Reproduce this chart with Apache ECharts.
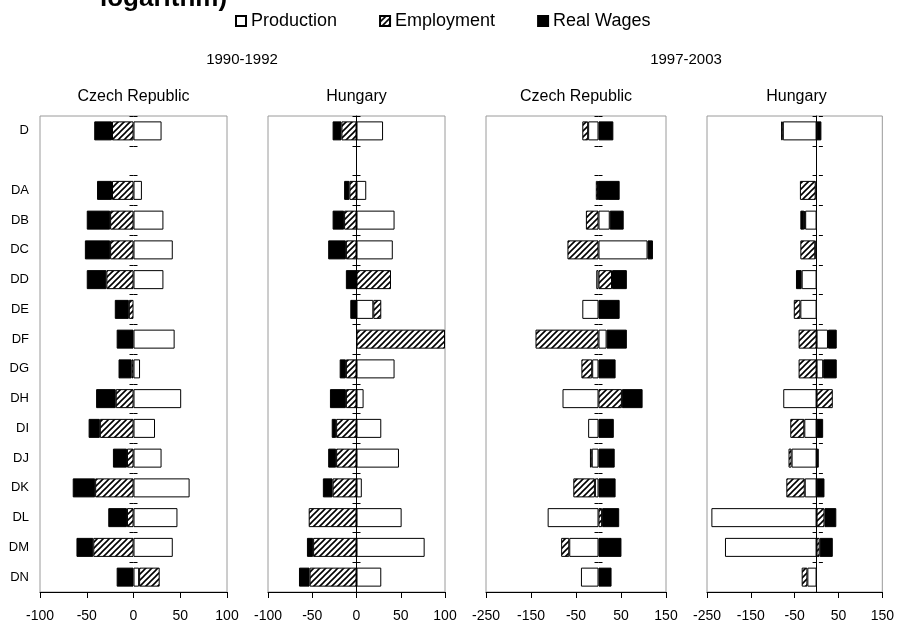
<!DOCTYPE html>
<html>
<head>
<meta charset="utf-8">
<script src="https://cdn.jsdelivr.net/npm/echarts/dist/echarts.min.js"></script>
<style>
  html, body { margin: 0; padding: 0; background: #fff; }
  #chart { width: 897px; height: 626px; }
</style>
</head>
<body>
<div id="chart"></div>
<script>
// Manufacturing branches (NACE); the empty slot separates total D from its sub-sections
const categories = ['D', '', 'DA', 'DB', 'DC', 'DD', 'DE', 'DF', 'DG', 'DH', 'DI', 'DJ', 'DK', 'DL', 'DM', 'DN'];

// Czech Republic, 1990-1992
const prodCz1 = [30, null, 9, 32, 42, 32, null, 44, 7, 51, 23, 30, 60, 47, 42, 6];
const empCz1  = [-23, null, -23, -25, -25, -29, -5, null, -2, -19, -36, -7, -41, -7, -43, 22];
const wageCz1 = [-19, null, -16, -25, -27, -21, -15, -18, -14, -21, -12, -15, -24, -20, -18, -18];

// Hungary, 1990-1992
const prodHu1 = [30, null, 11, 43, 41, null, 19, null, 43, 8, 28, 48, 6, 51, 77, 28];
const empHu1  = [-17, null, -8, -14, -12, 39, 9, 100, -12, -12, -23, -23, -27, -54, -49, -53];
const wageHu1 = [-10, null, -6, -13, -20, -12, -7, null, -7, -18, -5, -9, -11, null, -7, -12];

// Czech Republic, 1997-2003
const prodCz2 = [-23, null, -1, 25, 109, -5, -36, 18, -14, -80, -23, -15, -8, -113, -65, -39];
const empCz2  = [-13, null, -5, -28, -69, 30, null, -140, -24, 52, null, -4, -48, 8, -18, null];
const wageCz2 = [33, null, 47, 31, 12, 33, 47, 45, 38, 46, 34, 36, 38, 38, 51, 29];

// Hungary, 1997-2003
const prodHu2 = [-77, null, -2, -26, -3, -34, -37, 26, 15, -76, -28, -57, -27, -240, -209, -21];
const empHu2  = [-4, null, -36, -2, -34, null, -15, -41, -41, 37, -32, -7, -42, 18, 7, -13];
const wageHu2 = [11, null, null, -9, null, -13, null, 20, 31, null, 15, 5, 18, 27, 30, null];

// Axis ranges
const rangeEarly = { min: -100, max: 100, interval: 50 };
const rangeLate  = { min: -250, max: 150, interval: 100 };

const seriesNames = ['Production', 'Employment', 'Real Wages'];
const periodTitles = ['1990-1992', '1997-2003'];
const countryTitles = ['Czech Republic', 'Hungary', 'Czech Republic', 'Hungary'];

const FONT = 'Liberation Sans, Arial, sans-serif';

// Diagonal hatch used for the employment bars
function hatchPattern() {
  const c = document.createElement('canvas');
  c.width = 6; c.height = 6;
  const g = c.getContext('2d');
  g.fillStyle = '#fff';
  g.fillRect(0, 0, 6, 6);
  g.strokeStyle = '#000';
  g.lineWidth = 1.6;
  g.beginPath();
  g.moveTo(-1, 7); g.lineTo(7, -1);
  g.moveTo(-1, 1); g.lineTo(1, -1);
  g.moveTo(5, 7); g.lineTo(7, 5);
  g.stroke();
  return { image: c, repeat: 'repeat' };
}
const hatch = hatchPattern();

const panels = [
  { left: 40,  width: 187, range: rangeEarly, prod: prodCz1, emp: empCz1, wage: wageCz1, zeroLine: false, labels: true },
  { left: 268, width: 177, range: rangeEarly, prod: prodHu1, emp: empHu1, wage: wageHu1, zeroLine: true,  labels: false },
  { left: 486, width: 180, range: rangeLate,  prod: prodCz2, emp: empCz2, wage: wageCz2, zeroLine: false, labels: false },
  { left: 707, width: 179, range: rangeLate,  prod: prodHu2, emp: empHu2, wage: wageHu2, zeroLine: true,  labels: false }
];

const GRID_TOP = 116, GRID_H = 476, BAR_W = 19;
const N = panels.length;

const grid = [], xAxis = [], yAxis = [], series = [];

// main grids: frame, value axis, category labels, zero line with left ticks, bars
panels.forEach((p, i) => {
  grid.push({
    left: p.left, width: p.width, top: GRID_TOP, height: GRID_H,
    show: true, borderColor: '#9a9a9a', borderWidth: 1, backgroundColor: 'transparent'
  });
  xAxis.push({
    gridIndex: i, type: 'value', position: 'bottom',
    min: p.range.min, max: p.range.max, interval: p.range.interval,
    axisLine: { show: true, onZero: false, lineStyle: { color: '#000', width: 1 } },
    axisTick: { show: true, length: 6, lineStyle: { color: '#000' } },
    axisLabel: { fontSize: 14, color: '#000', margin: 17, fontFamily: FONT },
    splitLine: { show: false }
  });
  yAxis.push({
    gridIndex: i, type: 'category', data: categories, inverse: true, position: 'left',
    axisLine: { show: false, onZero: false },
    axisTick: { show: false },
    axisLabel: { show: p.labels, fontSize: 13, color: '#000', margin: 11, fontFamily: FONT }
  });
  yAxis.push({
    gridIndex: i, type: 'category', data: categories, inverse: true, position: 'left',
    axisLine: { show: p.zeroLine, onZero: true, lineStyle: { color: '#000', width: 1 } },
    axisTick: { show: true, length: 4, lineStyle: { color: '#000' } },
    axisLabel: { show: false }
  });

  const base = { type: 'bar', stack: 'panel' + i, xAxisIndex: i, yAxisIndex: i * 2, barWidth: BAR_W, animation: false, z: 3 };
  series.push(Object.assign({}, base, {
    name: seriesNames[0], data: p.prod,
    itemStyle: { color: '#fff', borderColor: '#000', borderWidth: 1 }
  }));
  series.push(Object.assign({}, base, {
    name: seriesNames[1], data: p.emp,
    itemStyle: { color: hatch, borderColor: '#000', borderWidth: 1 }
  }));
  series.push(Object.assign({}, base, {
    name: seriesNames[2], data: p.wage,
    itemStyle: { color: '#000', borderColor: '#000', borderWidth: 1 }
  }));
});

// overlay grids: the right-hand half of the crossing ticks on the zero line
panels.forEach((p, i) => {
  grid.push({ left: p.left, width: p.width, top: GRID_TOP, height: GRID_H, show: false });
  xAxis.push({
    gridIndex: N + i, type: 'value', show: false,
    min: p.range.min, max: p.range.max, interval: p.range.interval
  });
  yAxis.push({
    gridIndex: N + i, type: 'category', data: categories, inverse: true, position: 'right',
    axisLine: { show: false, onZero: true },
    axisTick: { show: true, length: 4, lineStyle: { color: '#000' } },
    axisLabel: { show: false }
  });
});

function label(text, x, y, size, weight) {
  return {
    type: 'text', x: x, y: y,
    style: { text: text, fill: '#000', font: (weight || 'normal') + ' ' + size + 'px ' + FONT, textAlign: 'center', textVerticalAlign: 'middle' }
  };
}

const graphic = [
  // last line of the figure heading, running off the top edge
  { type: 'text', x: 100, y: 12, style: { text: 'logarithm)', fill: '#000', font: 'bold 26px ' + FONT, textAlign: 'left', textVerticalAlign: 'bottom' } },
  label(periodTitles[0], 242, 60, 15),
  label(periodTitles[1], 686, 60, 15)
];
panels.forEach((p, i) => {
  graphic.push(label(countryTitles[i], p.left + p.width / 2, 97, 16));
});

const chart = echarts.init(document.getElementById('chart'), null, { renderer: 'canvas' });
chart.setOption({
  animation: false,
  backgroundColor: '#fff',
  textStyle: { fontFamily: FONT },
  legend: {
    data: seriesNames, left: 230, top: 7, icon: 'rect',
    itemWidth: 10, itemHeight: 10, itemGap: 42,
    textStyle: { fontSize: 18, color: '#000', fontFamily: FONT }
  },
  grid: grid,
  xAxis: xAxis,
  yAxis: yAxis,
  series: series,
  graphic: graphic
});
</script>
</body>
</html>
